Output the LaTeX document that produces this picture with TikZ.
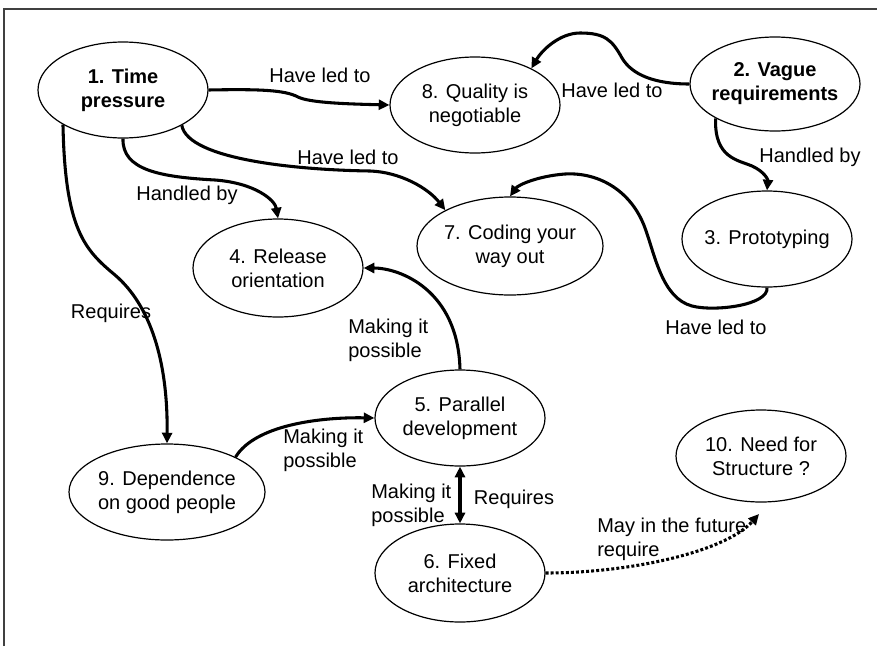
\documentclass[tikz,border=0pt]{standalone}
\usepackage{fontspec}
\setmainfont{Liberation Sans}
\usetikzlibrary{shapes.geometric,arrows.meta}

\begin{document}
\begin{tikzpicture}[x=0.75pt,y=-0.75pt,
  txt/.style={font=\fontsize{15}{18}\selectfont},
  concept/.style 2 args={ellipse,draw,line width=0.9pt,inner sep=0pt,
    minimum width=#1*1.5pt,minimum height=#2*1.5pt},
  ctext/.style={txt,align=center,inner sep=0pt},
  ctextbold/.style={ctext,font=\fontsize{15}{18}\selectfont\bfseries},
  lbl/.style={txt,align=left,inner sep=0pt},
  rel/.style={line width=2.3pt,-{Triangle[length=8pt,width=7.5pt]}},
  maybe/.style={line width=2.3pt,dash pattern=on 2.2pt off 1.6pt,
    -{Triangle[length=8pt,width=7.5pt]}},
]
\useasboundingbox (0,0) rectangle (877,646);

% frame
\draw[line width=0.8pt,black!75] (4,646) -- (4,9) -- (877,9);

% concepts
\node[concept={85}{48},label={[ctextbold]center:{1. Time\\pressure}}] (n1) at (123,90) {};
\node[concept={85}{47},label={[ctextbold]center:{2. Vague\\requirements}}] (n2) at (775,84) {};
\node[concept={85}{48},label={[ctext]center:{3. Prototyping}}] (n3) at (767,239) {};
\node[concept={85}{49},label={[ctext]center:{4. Release\\orientation}}] (n4) at (278,268) {};
\node[concept={85}{48},label={[ctext]center:{5. Parallel\\development}}] (n5) at (460,418) {};
\node[concept={85}{49},label={[ctext]center:{6. Fixed\\architecture}}] (n6) at (460,573) {};
\node[concept={93}{49},label={[ctext]center:{7. Coding your\\way out}}] (n7) at (510,246) {};
\node[concept={85}{48},label={[ctext]center:{8. Quality is\\negotiable}}] (n8) at (475,105) {};
\node[concept={98}{48},label={[ctext]center:{9. Dependence\\on good people}}] (n9) at (167,492) {};
\node[concept={85}{46},label={[ctext]center:{10. Need for\\Structure ?}}] (n10) at (761,456) {};
\coordinate (n10in) at (759,514);

% relations
\draw[rel] (n1.east) .. controls (260,89) and (285,90) .. (298,97)
  .. controls (310,103) and (350,104) .. (n8.west);
\draw[rel] (n2.west) .. controls (655,84) and (632,75) .. (622,58)
  .. controls (612,40) and (605,33) .. (580,33)
  .. controls (560,33) and (542,50) .. (n8.33);
\draw[rel] (n1.-31) .. controls (188,160) and (300,170) .. (370,171)
  .. controls (400,172) and (428,188) .. (n7.151);
\draw[rel] (n1.south) .. controls (122,170) and (160,177) .. (215,180)
  .. controls (255,183) and (275,200) .. (n4.north);
\draw[rel] (n1.-150) .. controls (65,230) and (85,250) .. (115,275)
  .. controls (150,305) and (168,360) .. (n9.north);
\draw[rel] (n5.north) .. controls (458,290) and (400,268) .. (n4.east);
\draw[rel] (n9.27) .. controls (255,425) and (320,417) .. (n5.west);
\draw[line width=2.3pt,{Triangle[length=8pt,width=7.5pt]}-{Triangle[length=8pt,width=7.5pt]}]
  (n5.south) -- (n6.north);
\draw[maybe] (n6.east) .. controls (630,573) and (725,552) .. (n10in);
\draw[rel] (n3.south) .. controls (769,305) and (715,312) .. (692,306)
  .. controls (662,298) and (655,255) .. (645,228)
  .. controls (632,192) and (600,172) .. (565,174)
  .. controls (538,176) and (518,185) .. (n7.north);
\draw[rel] (n2.-150) .. controls (714,158) and (738,160) .. (752,166)
  .. controls (765,172) and (768,180) .. (n3.north);

% relation labels
\node[lbl] (l1) at (320,75) {Have led to};
\node[lbl] (l2) at (612,90) {Have led to};
\node[lbl] (l3) at (348,157) {Have led to};
\node[lbl] (l4) at (187,195) {Handled by};
\node[lbl] (l5) at (111,313) {Requires};
\node[lbl,anchor=west] (l6) at (348,340) {Making it\\possible};
\node[lbl,anchor=west] (l7) at (283,450) {Making it\\possible};
\node[lbl,anchor=west] (l8) at (371,505) {Making it\\possible};
\node[lbl] (l9) at (514,499) {Requires};
\node[lbl,anchor=west] (l10) at (597,539) {May in the future\\require};
\node[lbl] (l11) at (716,327) {Have led to};
\node[lbl] (l12) at (810,157) {Handled by};
\end{tikzpicture}
\end{document}
